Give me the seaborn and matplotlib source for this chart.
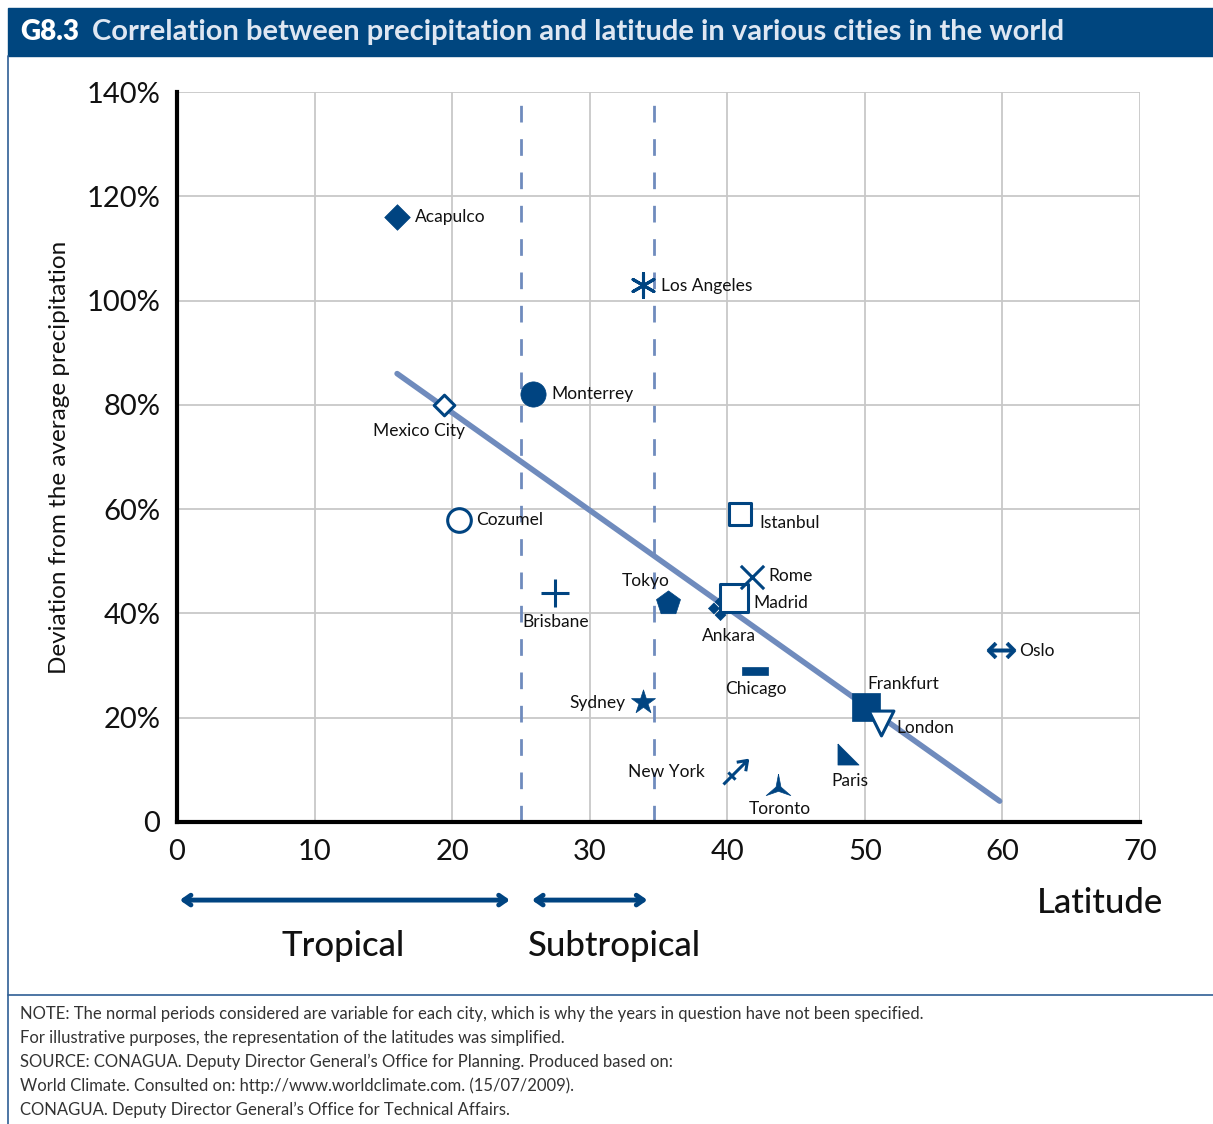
import numpy as np
import pandas as pd
import matplotlib
matplotlib.use("Agg")
import matplotlib.pyplot as plt
from matplotlib.path import Path
from matplotlib.patches import Rectangle
import seaborn as sns

# ---- data ----
cities = ["Acapulco", "Los Angeles", "Monterrey", "Mexico City", "Cozumel",
          "Brisbane", "Tokyo", "Ankara", "Madrid", "Rome", "Istanbul",
          "Chicago", "Sydney", "Frankfurt", "London", "Paris", "New York",
          "Toronto", "Oslo"]
latitude = [16.0, 33.9, 25.9, 19.4, 20.5, 27.5, 35.7, 39.5, 40.5, 41.8, 40.9,
            42.0, 33.9, 50.1, 51.2, 48.8, 40.6, 43.7, 59.9]
deviation = [116, 103, 82, 80, 58, 44, 42, 41, 43, 47, 59,
             29, 23, 22, 19, 13, 9.5, 6.5, 33]

trend_x = [16.0, 59.8]
trend_y = [86, 4]

zone_bounds = [25.0, 34.7]
x_ticks = [0, 10, 20, 30, 40, 50, 60, 70]
y_ticks = [0, 20, 40, 60, 80, 100, 120, 140]
y_tick_labels = ["0", "20%", "40%", "60%", "80%", "100%", "120%", "140%"]

notes = [
    "NOTE: The normal periods considered are variable for each city, which is why the years in question have not been specified.",
    "For illustrative purposes, the representation of the latitudes was simplified.",
    "SOURCE: CONAGUA. Deputy Director General\u2019s Office for Planning. Produced based on:",
    "World Climate. Consulted on: http://www.worldclimate.com. (15/07/2009).",
    "CONAGUA. Deputy Director General\u2019s Office for Technical Affairs.",
]

df = pd.DataFrame({"city": cities, "lat": latitude, "dev": deviation})

# ---- custom marker shapes ----
right_tri = Path([(-1, 1), (-1, -1), (1, -1), (-1, 1)])
bar_rect = Path([(-1, -0.3), (1, -0.3), (1, 0.3), (-1, 0.3), (-1, -0.3)])
arrow_ny = Path([(-1, -1), (1, 1), (0.1, 0.85), (1, 1), (0.85, 0.1),
                 (-0.6, 0.0), (0.0, -0.6)],
                [Path.MOVETO, Path.LINETO, Path.MOVETO, Path.LINETO, Path.LINETO,
                 Path.MOVETO, Path.LINETO])
ang = np.deg2rad([90, 150, 210, 270, 330, 390])
rad = [1, 0.2, 1, 0.2, 1, 0.2]
tri_star = Path([(r * np.cos(a), r * np.sin(a)) for r, a in zip(rad, ang)] +
                [(np.cos(ang[0]), np.sin(ang[0]))])

navy = "#004481"
# marker, size, kind, label dx, dy (points), ha
style = {
    "Acapulco":    ("D", 170, "fill", 13, 0, "left"),
    "Los Angeles": ((6, 2, 0), 300, "line", 13, -1, "left"),
    "Monterrey":   ("o", 330, "fill", 13, 0, "left"),
    "Mexico City": ("D", 110, "open", -18, -19, "center"),
    "Cozumel":     ("o", 290, "open", 12, 0, "left"),
    "Brisbane":    ("+", 380, "line", 0, -21, "center"),
    "Tokyo":       ("p", 330, "fill", -16, 16, "center"),
    "Ankara":      ("$\u2756$", 300, "fill", 6, -20, "center"),
    "Madrid":      ("s", 380, "open", 14, -4, "left"),
    "Rome":        ("x", 280, "line", 12, 1, "left"),
    "Istanbul":    ("s", 260, "open", 14, -6, "left"),
    "Chicago":     (bar_rect, 330, "fill", 1, -13, "center"),
    "Sydney":      ("*", 330, "fill", -13, -1, "right"),
    "Frankfurt":   ("s", 430, "fill", 1, 17, "left"),
    "London":      ("v", 320, "open", 11, -4, "left"),
    "Paris":       (right_tri, 230, "fill", 1, -19, "center"),
    "New York":    (arrow_ny, 300, "path", -22, 0, "right"),
    "Toronto":     (tri_star, 420, "fill", 1, -15, "center"),
    "Oslo":        ("$\\leftrightarrow$", 420, "fill", 13, -1, "left"),
}

sns.set_style("white")
plt.rcParams["font.family"] = ["Lato", "DejaVu Sans"]

fig = plt.figure(figsize=(12.13, 11.24), dpi=100)
ax = fig.add_axes([0.1459, 0.2687, 0.7939, 0.6494])

# grid
for v in x_ticks:
    ax.axvline(v, color="#c8c8c8", lw=1.3, zorder=0)
for v in y_ticks:
    ax.axhline(v, color="#c8c8c8", lw=1.3, zorder=0)

# climate zone boundaries
for b in zone_bounds:
    ax.axvline(b, ymin=0, ymax=0.99, color="#6f8bbd", lw=2, ls=(0, (6, 6)), zorder=1)

# trend line
sns.lineplot(x=trend_x, y=trend_y, color="#6f8bbd", lw=4, ax=ax, zorder=2)

for _, row in df.iterrows():
    m, s, kind, dx, dy, ha = style[row.city]
    kw = dict(x=[row.lat], y=[row.dev], marker=m, s=s, ax=ax, zorder=4)
    if kind == "line":
        sns.scatterplot(color=navy, linewidth=2.2, **kw)
    elif kind == "path":
        sns.scatterplot(facecolor="none", edgecolor=navy, linewidth=2.2, **kw)
    elif kind == "fill":
        sns.scatterplot(facecolor=navy, edgecolor=navy, linewidth=0.5, **kw)
    else:
        sns.scatterplot(facecolor="white", edgecolor=navy, linewidth=2.2, **kw)
    ax.annotate(row.city, (row.lat, row.dev), xytext=(dx, dy),
                textcoords="offset points", ha=ha, va="center",
                fontsize=12.5, color="#111111", zorder=5)

ax.set_xlim(0, 70)
ax.set_ylim(0, 140)
ax.set_xticks(x_ticks)
ax.set_yticks(y_ticks)
ax.set_yticklabels(y_tick_labels)
ax.tick_params(axis="both", labelsize=21, length=0, pad=12, colors="#111111")
for side in ["top", "right"]:
    ax.spines[side].set_visible(False)
for side in ["left", "bottom"]:
    ax.spines[side].set_color("black")
    ax.spines[side].set_linewidth(3)
ax.set_xlabel("")
ax.set_ylabel("Deviation from the average precipitation", fontsize=17.5,
              labelpad=12, color="#111111")
ax.text(1.024, -0.111, "Latitude", transform=ax.transAxes, ha="right",
        va="center", fontsize=25, fontweight="medium", color="#111111")

# zone arrows
arrow_kw = dict(arrowstyle="<->,head_length=0.5,head_width=0.35", color=navy, lw=3.5)
ax.annotate("", xy=(25.0 - 0.6, -0.107), xytext=(0, -0.107),
            xycoords=("data", "axes fraction"), textcoords=("data", "axes fraction"),
            arrowprops=arrow_kw, annotation_clip=False)
ax.annotate("", xy=(34.7 - 0.3, -0.107), xytext=(25.0 + 0.6, -0.107),
            xycoords=("data", "axes fraction"), textcoords=("data", "axes fraction"),
            arrowprops=arrow_kw, annotation_clip=False)
ax.text(12.1, -0.17, "Tropical", transform=ax.get_xaxis_transform(),
        ha="center", va="center", fontsize=25, fontweight="medium", color="#111111")
ax.text(31.8, -0.17, "Subtropical", transform=ax.get_xaxis_transform(),
        ha="center", va="center", fontsize=25, fontweight="medium", color="#111111")

# header banner and frame
fig.patches.append(Rectangle((0.0066, 0.9502), 0.9934, 0.0427, transform=fig.transFigure,
                             color="#00467f", zorder=0))
fig.text(0.0165, 0.9716, "G8.3", color="white", fontsize=20, fontweight="heavy",
         va="center", ha="left")
fig.text(0.076, 0.9716, "Correlation between precipitation and latitude in various cities in the world",
         color="#dfe7f2", fontsize=21, fontweight="bold", va="center", ha="left")
fig.add_artist(plt.Line2D([0.0066, 0.0066], [0, 0.9502], color="#2f5f95", lw=1.2))
fig.add_artist(plt.Line2D([0.0066, 1.0], [0.1148, 0.1148], color="#2f5f95", lw=1.2))

for i, line in enumerate(notes):
    fig.text(0.0165, 1 - (1014 + 24 * i) / 1124, line, fontsize=12,
             color="#333333", va="center", ha="left")

fig.savefig("out.png", dpi=100)
